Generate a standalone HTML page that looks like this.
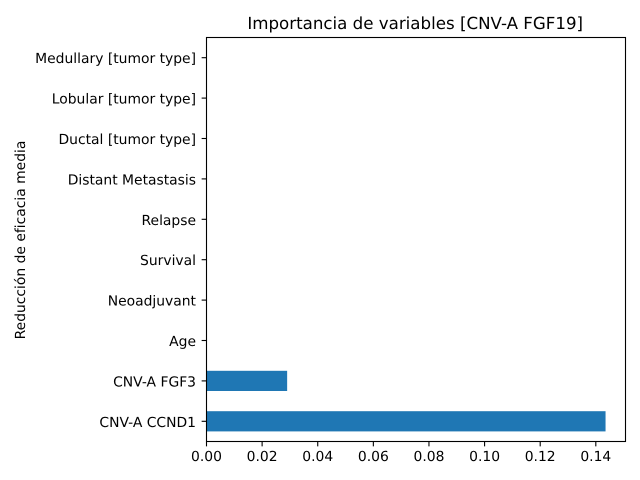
<!DOCTYPE html>
<html lang="es">
<head>
<meta charset="utf-8">
<title>Importancia de variables [CNV-A FGF19]</title>
<style>
html,body{margin:0;padding:0;background:#fff}
svg{display:block}
text{font-family:"DejaVu Sans",sans-serif;font-size:13.89px;fill:#000;text-rendering:geometricPrecision}
</style>
</head>
<body>
<svg id="chart" width="640" height="480" viewBox="0 0 640 480" xmlns="http://www.w3.org/2000/svg">
<rect width="640" height="480" fill="#fff"/>
<g id="bars"></g>
<g id="x-axis"></g>
<g id="y-axis"></g>
<rect x="206.5" y="37.5" width="419" height="404" fill="none" stroke="#000" stroke-width="1.1"/>
<text x="415.2" y="29" text-anchor="middle" style="font-size:16.67px">Importancia de variables [CNV-A FGF19]</text>
<text transform="translate(25 240) rotate(-90)" text-anchor="middle">Reducción de eficacia media</text>
</svg>
<script>
const categories = ["CNV-A CCND1","CNV-A FGF3","Age","Neoadjuvant","Survival","Relapse","Distant Metastasis","Ductal [tumor type]","Lobular [tumor type]","Medullary [tumor type]"];
const importance = [0.1435,0.029,0,0,0,0,0,0,0,0];
const xTicks = [0,0.02,0.04,0.06,0.08,0.10,0.12,0.14];
const xTickLabels = ["0.00","0.02","0.04","0.06","0.08","0.10","0.12","0.14"];

const NS = "http://www.w3.org/2000/svg";
const plotLeft = 206.5, plotRight = 625.5, plotTop = 37.5, plotBottom = 441.5;
const xMax = Math.max(...importance) * 1.05;
const xScale = v => plotLeft + (v / xMax) * (plotRight - plotLeft);
const yScale = i => plotBottom - (i + 0.5) * (plotBottom - plotTop) / categories.length;
const bandHeight = (plotBottom - plotTop) / categories.length * 0.5;

function make(tag, attrs, parent, text) {
  const el = document.createElementNS(NS, tag);
  for (const k in attrs) el.setAttribute(k, attrs[k]);
  if (text !== undefined) el.textContent = text;
  parent.appendChild(el);
  return el;
}

const barsG = document.getElementById("bars");
const xG = document.getElementById("x-axis");
const yG = document.getElementById("y-axis");

categories.forEach((c, i) => {
  const y = yScale(i);
  const bar = make("rect", {x: plotLeft, y: y - bandHeight / 2, width: xScale(importance[i]) - plotLeft, height: bandHeight, fill: "#1f77b4"}, barsG);
  
  
  const tick = make("line", {x1: plotLeft - 4.86, x2: plotLeft, y1: y, y2: y, stroke: "#000", "stroke-width": 1.1}, yG);
  
  
  const label = make("text", {x: 196, y: y + 5.5, "text-anchor": "end"}, yG, c);
  
  
});

xTicks.forEach((t, i) => {
  const x = xScale(t);
  const tick = make("line", {x1: x, x2: x, y1: plotBottom, y2: plotBottom + 4.86, stroke: "#000", "stroke-width": 1.1}, xG);
  
  
  const label = make("text", {x: x, y: 461, "text-anchor": "middle"}, xG, xTickLabels[i]);
  
  
});
</script>
</body>
</html>
